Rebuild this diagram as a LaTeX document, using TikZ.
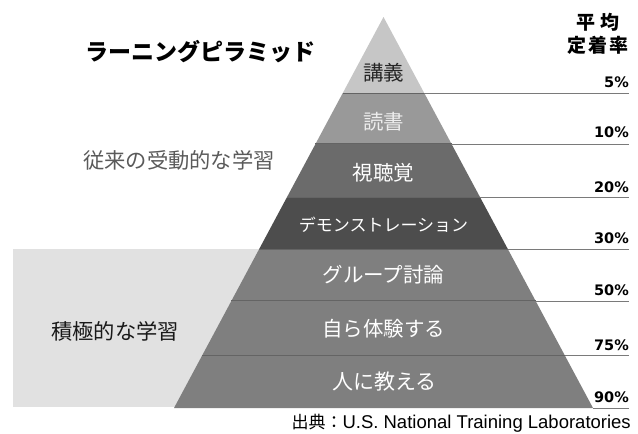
\documentclass[tikz,border=0pt]{standalone}
\usepackage{fontspec}
\setmainfont{Noto Sans CJK JP}
\newfontfamily\pctfont{DejaVu Sans}
\newfontfamily\latfont{Liberation Sans}
\usetikzlibrary{calc}
\definecolor{bandA}{HTML}{C6C6C6}
\definecolor{bandB}{HTML}{999999}
\definecolor{bandC}{HTML}{6B6B6B}
\definecolor{bandD}{HTML}{4D4D4D}
\definecolor{bandE}{HTML}{7F7F7F}
\definecolor{bgzone}{HTML}{E1E1E1}
\definecolor{sepline}{HTML}{646464}
\definecolor{ruleline}{HTML}{7A7A7A}
\definecolor{passivetext}{HTML}{5A5A5A}
\begin{document}
\begin{tikzpicture}[x=1pt,y=-1pt,
  bandtext/.style={inner sep=0pt, font=\fontsize{20.5}{20.5}\selectfont, text=white},
  pcttext/.style={inner sep=0pt, anchor=base east, font=\pctfont\bfseries\fontsize{14.5}{14.5}\selectfont, text=black},
  septhin/.style={draw=sepline, line width=1pt},
  rulethin/.style={draw=ruleline, line width=0.9pt},
  sidetext/.style={inner sep=0pt, font=\fontsize{21.3}{21.3}\selectfont}]
\useasboundingbox (0,0) rectangle (638,434);
\fill[bgzone] (13,249) rectangle (383,407);
\coordinate (A) at (383.5,17);
\coordinate (BL) at (174,408);
\coordinate (BR) at (593,408);
\coordinate (E) at (629,0);
\foreach \n/\t in {1/0.1944,2/0.3248,3/0.4604,4/0.5934,5/0.7263,6/0.8645,7/1}{
  \coordinate (L\n) at ($(A)!\t!(BL)$);
  \coordinate (R\n) at ($(A)!\t!(BR)$);
}
\fill[bandA] (A) -- (R1) -- (L1) -- cycle;
\fill[bandB] (L1) -- (R1) -- (R2) -- (L2) -- cycle;
\fill[bandC] (L2) -- (R2) -- (R3) -- (L3) -- cycle;
\fill[bandD] (L3) -- (R3) -- (R4) -- (L4) -- cycle;
\fill[bandE] (L4) -- (R4) -- (R7) -- (L7) -- cycle;
\foreach \n in {1,...,6}{
  \draw[septhin] (L\n) -- (R\n);
}
\foreach \n in {1,...,7}{
  \draw[rulethin] (R\n) -- (R\n -| E);
}
% band labels
\node[bandtext, text=black!85] (t1) at (383.5,73) {講義};
\node[bandtext, text=white!93!black] (t2) at (383.5,122) {読書};
\node[bandtext] (t3) at (383.5,173) {視聴覚};
\node[bandtext, font=\fontsize{17}{17}\selectfont] (t4) at (383.5,225) {デモンストレーション};
\node[bandtext] (t5) at (383.5,275) {グループ討論};
\node[bandtext] (t6) at (383.5,329) {自ら体験する};
\node[bandtext, font=\fontsize{21}{21}\selectfont] (t7) at (384.5,382) {人に教える};
% percentages
\node[pcttext] (p1) at ($(R1 -| E)+(0,-6)$) {5\%};
\node[pcttext] (p2) at ($(R2 -| E)+(0,-6)$) {10\%};
\node[pcttext] (p3) at ($(R3 -| E)+(0,-5)$) {20\%};
\node[pcttext] (p4) at ($(R4 -| E)+(0,-6)$) {30\%};
\node[pcttext] (p5) at ($(R5 -| E)+(0,-5)$) {50\%};
\node[pcttext] (p6) at ($(R6 -| E)+(0,-5)$) {75\%};
\node[pcttext] (p7) at ($(R7 -| E)+(0,-6)$) {90\%};
% headings
\node[inner sep=0pt, font=\bfseries\fontsize{23}{23}\selectfont] (title) at (200,52) {ラーニングピラミッド};
\node[inner sep=0pt, font=\bfseries\fontsize{19}{19}\selectfont] (h1) at (598,22) {平\hspace{5pt}均};
\node[inner sep=0pt, font=\bfseries\fontsize{19}{19}\selectfont] (h2) at (598,45) {定\hspace{2pt}着\hspace{2pt}率};
\node[sidetext, text=passivetext] (passive) at (179,160) {従来の受動的な学習};
\node[sidetext, text=black!90] (active) at (115,331) {積極的な学習};
\node[inner sep=0pt, anchor=east, font=\fontsize{17}{17}\selectfont] (src) at (631,423) {出典：\latfont\fontsize{18.5}{18.5}\selectfont U.S. National Training Laboratories};
\end{tikzpicture}
\end{document}
